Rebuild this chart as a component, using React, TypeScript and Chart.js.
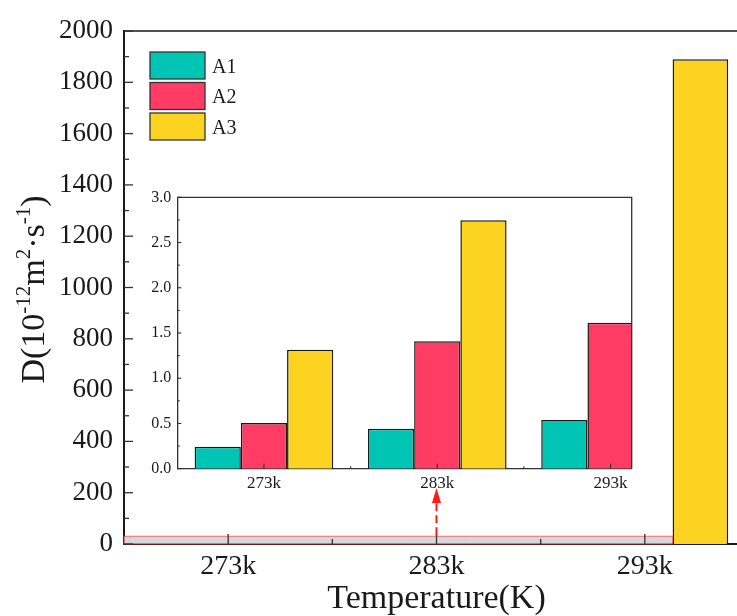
import React, { useEffect, useRef } from "react";
import { Chart, registerables } from "chart.js";

Chart.register(...registerables);

// ---------- data ----------
const categories = ["273k", "283k", "293k"];
const seriesNames = ["A1", "A2", "A3"];
const A1 = [0.243, 0.442, 0.538];
const A2 = [0.505, 1.408, 1.613];
const A3 = [1.315, 2.745, 1890];
const series = [A1, A2, A3];

const mainYMax = 2000;
const mainYStep = 200;
const insetYMax = 3.0;
const insetYStep = 0.5;
const bandTopValue = 30; // highlighted band near zero on main chart
const arrowTipValue = 218; // arrow tip height on main chart's y scale

// ---------- style ----------
const colors = ["#00C4B4", "#FE3C64", "#FDD322"];
const FONT = "'Liberation Serif', 'Times New Roman', serif";
const INK = "#1a1a1a";
const insetXMax = 2.122;

function drawTicksY(ctx: CanvasRenderingContext2D, scale: any, x: number, step: number, major: number, minor: number) {
  const min = scale.min;
  const max = scale.max;
  const n = Math.round((max - min) / (step / 2));
  for (let i = 0; i <= n; i++) {
    const v = min + (i * step) / 2;
    const y = scale.getPixelForValue(v);
    const len = i % 2 === 0 ? major : minor;
    ctx.beginPath();
    ctx.moveTo(x, y);
    ctx.lineTo(x + len, y);
    ctx.stroke();
  }
}

const mainPlugin = {
  id: "mainDecor",
  afterDatasetsDraw(chart: any) {
    const { ctx, chartArea } = chart;
    const xs = chart.scales.x;
    const ys = chart.scales.y;
    ctx.save();
    // top frame line
    ctx.strokeStyle = INK;
    ctx.lineWidth = 1.6;
    ctx.beginPath();
    ctx.moveTo(chartArea.left, chartArea.top);
    ctx.lineTo(chartArea.right, chartArea.top);
    ctx.stroke();

    // band near zero (up to the big bar's left edge)
    const meta = chart.getDatasetMeta(2);
    const big = meta.data[2];
    const bandRight = big.x - big.width / 2;
    const yTop = ys.getPixelForValue(bandTopValue);
    const yBot = ys.getPixelForValue(0);
    ctx.fillStyle = "rgba(205,205,205,0.8)";
    ctx.fillRect(chartArea.left, yTop, bandRight - chartArea.left, yBot - yTop);
    ctx.strokeStyle = "rgba(255,40,40,0.55)";
    ctx.lineWidth = 1.2;
    ctx.strokeRect(chartArea.left, yTop, bandRight - chartArea.left, yBot - yTop);

    // ticks (inward)
    ctx.strokeStyle = "#333";
    ctx.lineWidth = 1.3;
    drawTicksY(ctx, ys, chartArea.left, mainYStep, 9, 5);
    for (let i = 0; i < categories.length; i++) {
      const x = xs.getPixelForValue(i);
      ctx.beginPath();
      ctx.moveTo(x, chartArea.bottom);
      ctx.lineTo(x, chartArea.bottom - 10);
      ctx.stroke();
      if (i < categories.length - 1) {
        const xm = xs.getPixelForValue(i + 0.5);
        ctx.beginPath();
        ctx.moveTo(xm, chartArea.bottom);
        ctx.lineTo(xm, chartArea.bottom - 5);
        ctx.stroke();
      }
    }

    // red dashed arrow
    const ax = xs.getPixelForValue(1);
    const tipY = ys.getPixelForValue(arrowTipValue);
    const headLen = 15;
    ctx.strokeStyle = "#FF1A1A";
    ctx.fillStyle = "#FF1A1A";
    ctx.lineWidth = 2;
    ctx.setLineDash([8, 4]);
    ctx.beginPath();
    ctx.moveTo(ax, yTop - 1);
    ctx.lineTo(ax, tipY + headLen);
    ctx.stroke();
    ctx.setLineDash([]);
    ctx.beginPath();
    ctx.moveTo(ax, tipY);
    ctx.lineTo(ax - 4.5, tipY + headLen);
    ctx.lineTo(ax + 4.5, tipY + headLen);
    ctx.closePath();
    ctx.fill();

    // legend
    const bx = chartArea.left + 26;
    let by = chartArea.top + 21;
    const bw = 55;
    const bh = 27;
    chart.data.datasets.forEach((ds: any) => {
      ctx.fillStyle = ds.backgroundColor;
      ctx.fillRect(bx, by, bw, bh);
      ctx.strokeStyle = "#333";
      ctx.lineWidth = 1.3;
      ctx.strokeRect(bx, by, bw, bh);
      ctx.fillStyle = INK;
      ctx.font = `20px ${FONT}`;
      ctx.textAlign = "left";
      ctx.textBaseline = "middle";
      ctx.fillText(ds.label, bx + bw + 7, by + bh / 2 + 2);
      by += 30.5;
    });

    // y axis title with superscripts
    const size = 34;
    const supSize = 21;
    const parts: [string, boolean][] = [
      ["D(10", false],
      ["-12", true],
      ["m", false],
      ["2", true],
      ["·s", false],
      ["-1", true],
      [")", false],
    ];
    let total = 0;
    const widths = parts.map(([t, s]) => {
      ctx.font = `${s ? supSize : size}px ${FONT}`;
      const w = ctx.measureText(t).width;
      total += w;
      return w;
    });
    const cy = (chartArea.top + chartArea.bottom) / 2 + 2;
    ctx.translate(44, cy);
    ctx.rotate(-Math.PI / 2);
    ctx.fillStyle = INK;
    ctx.textAlign = "left";
    ctx.textBaseline = "alphabetic";
    let px = -total / 2;
    parts.forEach(([t, s], i) => {
      ctx.font = `${s ? supSize : size}px ${FONT}`;
      ctx.fillText(t, px, s ? -size * 0.42 : 0);
      px += widths[i];
    });
    ctx.restore();
  },
};

const insetPlugin = {
  id: "insetDecor",
  afterDatasetsDraw(chart: any) {
    const { ctx, chartArea } = chart;
    const xs = chart.scales.x;
    const ys = chart.scales.y;
    ctx.save();
    ctx.strokeStyle = "#333";
    ctx.lineWidth = 1.3;
    ctx.beginPath();
    ctx.moveTo(chartArea.left, chartArea.top);
    ctx.lineTo(chartArea.right, chartArea.top);
    ctx.lineTo(chartArea.right, chartArea.bottom);
    ctx.stroke();
    ctx.lineWidth = 1.1;
    drawTicksY(ctx, ys, chartArea.left, insetYStep, 4, 2.5);
    for (let i = 0; i < categories.length; i++) {
      const x = xs.getPixelForValue(i);
      ctx.beginPath();
      ctx.moveTo(x, chartArea.bottom);
      ctx.lineTo(x, chartArea.bottom - 5);
      ctx.stroke();
      const xm = xs.getPixelForValue(i + 0.5);
      if (xm < chartArea.right - 1) {
        ctx.beginPath();
        ctx.moveTo(xm, chartArea.bottom);
        ctx.lineTo(xm, chartArea.bottom - 2.5);
        ctx.stroke();
      }
    }
    ctx.restore();
  },
};

export default function App() {
  const mainRef = useRef<HTMLCanvasElement>(null);
  const insetRef = useRef<HTMLCanvasElement>(null);

  useEffect(() => {
    const mainChart = new Chart(mainRef.current as HTMLCanvasElement, {
      type: "bar",
      data: {
        labels: categories,
        datasets: seriesNames.map((n, i) => ({
          label: n,
          data: series[i],
          backgroundColor: colors[i],
          borderColor: "#1a1a1a",
          borderWidth: 1.5,
          categoryPercentage: 0.8,
          barPercentage: 1,
          clip: 0,
        })),
      },
      options: {
        responsive: false,
        animation: false,
        layout: { padding: { top: 31, left: 0, right: 0, bottom: 0 } },
        plugins: { legend: { display: false }, tooltip: { enabled: false } },
        scales: {
          x: {
            type: "category",
            grid: { display: false, drawTicks: false },
            border: { display: true, color: INK, width: 2 },
            ticks: { font: { family: FONT, size: 28 }, color: INK, padding: 6, maxRotation: 0 },
            title: {
              display: true,
              text: "Temperature(K)",
              font: { family: FONT, size: 34, lineHeight: 1 },
              color: INK,
              padding: 0,
            },
            afterFit: (s: any) => {
              s.height = 72;
            },
          },
          y: {
            min: 0,
            max: mainYMax,
            grid: { display: false, drawTicks: false },
            border: { display: true, color: INK, width: 2 },
            ticks: {
              stepSize: mainYStep,
              callback: (v: any) => String(v),
              font: { family: FONT, size: 27 },
              color: INK,
              padding: 11,
            },
            afterFit: (s: any) => {
              s.width = 124;
            },
          },
        },
      } as any,
      plugins: [mainPlugin],
    });

    const insetChart = new Chart(insetRef.current as HTMLCanvasElement, {
      type: "bar",
      data: {
        datasets: seriesNames.map((n, i) => ({
          label: n,
          data: series[i].map((v, j) => ({ x: j, y: v })),
          backgroundColor: colors[i],
          borderColor: "#1a1a1a",
          borderWidth: 1.5,
          categoryPercentage: 0.8,
          barPercentage: 1,
          clip: 0,
        })),
      },
      options: {
        responsive: false,
        animation: false,
        layout: { padding: { top: 27.3, left: 0, right: 18.3, bottom: 0 } },
        plugins: { legend: { display: false }, tooltip: { enabled: false } },
        scales: {
          x: {
            type: "linear",
            min: -0.5,
            max: insetXMax,
            offset: false,
            grid: { display: false, drawTicks: false, offset: false },
            border: { display: true, color: "#333", width: 1.3 },
            afterBuildTicks: (s: any) => {
              s.ticks = categories.map((_, i) => ({ value: i }));
            },
            ticks: {
              callback: (v: any) => categories[v],
              font: { family: FONT, size: 17 },
              color: INK,
              padding: 5,
              autoSkip: false,
              maxRotation: 0,
            },
            afterFit: (s: any) => {
              s.height = 31.3;
            },
          },
          y: {
            min: 0,
            max: insetYMax,
            grid: { display: false, drawTicks: false },
            border: { display: true, color: "#333", width: 1.3 },
            ticks: {
              stepSize: insetYStep,
              callback: (v: any) => Number(v).toFixed(1),
              font: { family: FONT, size: 16 },
              color: INK,
              padding: 6,
            },
            afterFit: (s: any) => {
              s.width = 47.3;
            },
          },
        },
      } as any,
      plugins: [insetPlugin],
    });

    return () => {
      mainChart.destroy();
      insetChart.destroy();
    };
  }, []);

  return (
    <div
      style={{
        position: "absolute",
        left: 0,
        top: 0,
        width: 737,
        height: 616,
        overflow: "hidden",
        background: "#fff",
      }}
    >
      <canvas
        ref={mainRef}
        width={749}
        height={616}
        style={{ position: "absolute", left: 0, top: 0, display: "block" }}
      />
      <canvas
        ref={insetRef}
        width={520}
        height={330}
        style={{ position: "absolute", left: 130, top: 170, display: "block" }}
      />
    </div>
  );
}
